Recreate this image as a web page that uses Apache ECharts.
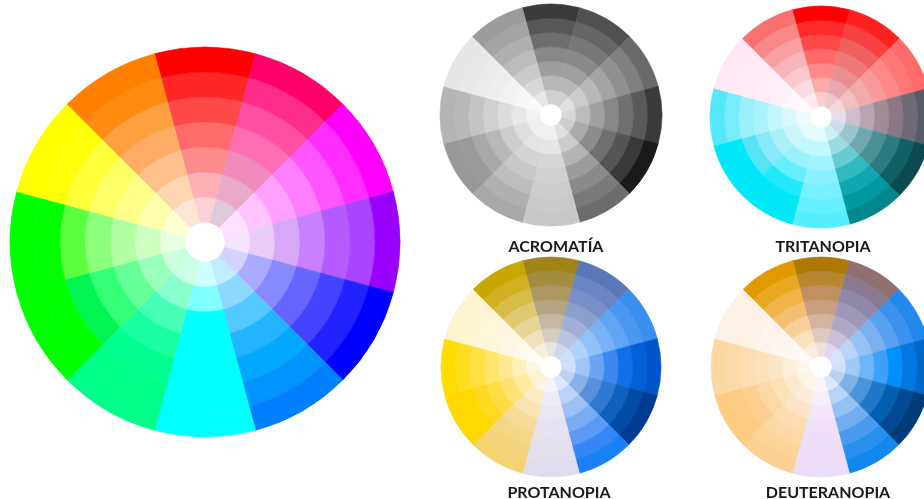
<!DOCTYPE html>
<html>
<head>
<meta charset="utf-8">
<script src="https://cdn.jsdelivr.net/npm/echarts@6/dist/echarts.min.js"></script>
<style>html,body{margin:0;padding:0;background:#fff}#c{width:924px;height:499px}</style>
</head>
<body>
<div id="c"></div>
<script>
// 12 sectors clockwise from top; each list: ring colours from outer ring to inner ring
const sectors = ['Rojo','Rosa','Magenta','Violeta','Azul','Azur','Cian','Verde primavera','Verde','Verde lima','Amarillo','Naranja'];
const ringNames = ['Anillo 1','Anillo 2','Anillo 3','Anillo 4','Anillo 5','Anillo 6','Anillo 7'];

const normalColors = [
  ['#ff0000','#ff2626','#ff4848','#ff6a6a','#ff8c8c','#ffb0b6','#fcd0d6'],
  ['#ff0066','#ff2d8a','#ff4fa0','#ff6eb0','#f08cbc','#e8aac8','#e0c8d8'],
  ['#ff00ff','#ff2cff','#ff55ff','#ff7dff','#ffa0ff','#ffc4ff','#ffe0ff'],
  ['#9900ff','#aa44ff','#b55aff','#c880ff','#d8a8f8','#eaccf8','#f6e4fc'],
  ['#0000ff','#2222ff','#4444ff','#6666ff','#8888ff','#aaaaff','#d0d4ff'],
  ['#0080ff','#0094ff','#00a8ff','#22b4ff','#55c8ff','#8dd8ff','#c0ecff'],
  ['#00ffff','#00ffff','#00ffff','#00ffff','#00ffff','#80ffff','#ccffff'],
  ['#00ff88','#00ff88','#00ff90','#1affa0','#44ffb4','#88ffcc','#ccffe8'],
  ['#00ff00','#00ff00','#00f550','#33ff77','#66ff99','#99ffbb','#ccffdd'],
  ['#00ff00','#00ff00','#5cff40','#8cff7c','#b0ffa0','#ccffc0','#e8ffe0'],
  ['#ffff00','#ffff0a','#ffff3a','#ffff66','#ffff88','#ffffaa','#ffffd0'],
  ['#ff8000','#ff8c10','#ffa040','#ffac66','#ffc08c','#ffd4b0','#fde6d4']
];
const acromatiaColors = [
  ['#3a3a3a','#585858','#6e6e6e','#888888','#9e9e9e','#b8b8b8','#d0d0d0'],
  ['#505050','#666666','#777777','#8a8a8a','#a0a0a0','#b8b8b8','#d0d0d0'],
  ['#6a6a6a','#808080','#909090','#a4a4a4','#b8b8b8','#cccccc','#e0e0e0'],
  ['#3a3a3a','#5a5a5a','#707070','#888888','#a0a0a0','#bcbcbc','#d8d8d8'],
  ['#1a1a1a','#3a3a3a','#555555','#707070','#8c8c8c','#aaaaaa','#cccccc'],
  ['#6c6c6c','#7a7a7a','#8a8a8a','#9c9c9c','#b4b4b4','#cccccc','#e0e0e0'],
  ['#c8c8c8','#cacaca','#cccccc','#d0d0d0','#d6d6d6','#e6e6e6','#f0f0f0'],
  ['#a8a8a8','#b0b0b0','#bdbdbd','#c8c8c8','#d4d4d4','#e4e4e4','#f0f0f0'],
  ['#989898','#9a9a9a','#a8a8a8','#b8b8b8','#cccccc','#dddddd','#eeeeee'],
  ['#b4b4b4','#b8b8b8','#c4c4c4','#d0d0d0','#dcdcdc','#e8e8e8','#f2f2f2'],
  ['#e6e6e6','#e8e8e8','#ebebeb','#eeeeee','#f2f2f2','#f6f6f6','#fafafa'],
  ['#9c9c9c','#a4a4a4','#b0b0b0','#bcbcbc','#cacaca','#d8d8d8','#e8e8e8']
];
const tritanopiaColors = [
  ['#ff0000','#ff2a2a','#ff4848','#ff6a6a','#ff8a8a','#ffaaaa','#ffcccc'],
  ['#ff2020','#f84040','#f06060','#f07878','#e89090','#e8a8b0','#eec8d0'],
  ['#ff6a6a','#ff7878','#ff8888','#f89a9a','#f0aaaa','#f0c0c0','#f4d8d8'],
  ['#555d66','#6e6a76','#8a7884','#a08c98','#b8a4b0','#ccc0cc','#e6dceb'],
  ['#0a4a50','#106068','#2a7a80','#4a9096','#70a8b0','#9cc4cc','#c8e0e6'],
  ['#00888c','#0099a0','#10a8b0','#33b8c0','#66ccd4','#99dde4','#ccf0f4'],
  ['#55eeff','#66efff','#77f0ff','#88f2ff','#a0f4ff','#c0f8ff','#e0fcff'],
  ['#00e8f8','#00e8f8','#22eafa','#66eefa','#99f2fb','#c4f6fd','#e6fbfe'],
  ['#00e8f8','#00e8f8','#55e4f4','#88eaf8','#aaf0fa','#ccf6fc','#e6fbfe'],
  ['#55e8f8','#77ecfa','#99f0fb','#aaf2fc','#c4f6fd','#daf8fe','#eefcff'],
  ['#fde8f4','#fdeaf5','#fdecf6','#feeef7','#fef2f8','#fef6fa','#fefafc'],
  ['#f87070','#f88888','#f8a0a0','#f8b4b8','#fcc8cc','#fcdce0','#feeaf0']
];
const protanopiaColors = [
  ['#a08418','#a48c40','#ac9860','#b4a482','#c4b8a4','#d4ccc0','#e8e4e0'],
  ['#5a78b8','#6a84c4','#7890c8','#8ca0d0','#a0b0d8','#b8c4e0','#d0d8ec'],
  ['#3a8ef0','#4a98f2','#60a4f4','#78b2f6','#90c2f8','#aed2fa','#cce0fc'],
  ['#0055cc','#0060d8','#1070e8','#3a88f0','#6aa4f4','#a0c4f8','#d0e0fc'],
  ['#003c94','#004aa8','#1060c0','#3078d0','#5890dc','#88b0e8','#bcd0f4'],
  ['#1a80f8','#3388f6','#5a9af4','#7aacf4','#9cc0f6','#bcd2f8','#dde6fc'],
  ['#e0dcec','#e2deed','#e4e0ee','#e6e2f0','#eae6f2','#f0ecf6','#f6f4fa'],
  ['#f4d470','#f4d47c','#f4d888','#f6dc98','#f8e4b0','#faecc8','#fcf4e0'],
  ['#ffd800','#ffd800','#ffd820','#ffdc44','#ffe270','#ffeaa0','#fff4cc'],
  ['#ffdd00','#ffdd22','#ffe040','#ffe468','#ffea90','#fff0b8','#fff8e0'],
  ['#fff4d0','#fff5d4','#fff6d8','#fff7dc','#fff8e4','#fffaec','#fffcf4'],
  ['#c8a800','#d0b020','#d8bc48','#e0c870','#e8d498','#f0e0bc','#f8eedc']
];
const deuteranopiaColors = [
  ['#b07800','#b88830','#c09060','#c8a080','#d4b4a0','#e0c8c0','#ece0dc'],
  ['#907070','#8a7a90','#9088a8','#a098b8','#b0a8c8','#c8c0dc','#e0d8ee'],
  ['#2288ee','#3a92ee','#5aa0f0','#7ab0f2','#98c0f4','#b8d4f8','#d4e4fb'],
  ['#0068c8','#0078e0','#0090f8','#40a0f8','#70b4f8','#a0c8fa','#d0e0fc'],
  ['#003c78','#004a94','#0060b0','#2078c8','#4a94d8','#7eb2e6','#b8d4f2'],
  ['#1188ee','#2a90ee','#4a9af0','#70aef2','#94c0f4','#b8d4f8','#dce8fc'],
  ['#ecdcf6','#ecdcf6','#eedef7','#f0e0f8','#f2e6f8','#f6eefa','#faf4fc'],
  ['#fcd090','#fcd498','#fcd8a4','#fcdcb0','#fce4c4','#fcecd8','#fef4ec'],
  ['#fccc80','#fccc84','#fcd090','#fcd8a4','#fce0b8','#fceacc','#fef4e4'],
  ['#fcd8a0','#fcdaa8','#fcdcb0','#fce0b8','#fce6c8','#fdeed8','#fef6ec'],
  ['#fdf0e4','#fdf1e6','#fdf2e8','#fef4ec','#fef6f0','#fef8f4','#fefcfa'],
  ['#e09a00','#e8a820','#f0b448','#f4c070','#f8d098','#fae0bc','#fcecdc']
];
const wheelTitles = ['', 'ACROMATÍA', 'TRITANOPIA', 'PROTANOPIA', 'DEUTERANOPIA'];
const wheelData = [normalColors, acromatiaColors, tritanopiaColors, protanopiaColors, deuteranopiaColors];

// layout
const wheelLayout = [
  {center:[205,242], radius:[20,195]},
  {center:[551,115], radius:[11,111]},
  {center:[821,117], radius:[11,111]},
  {center:[551,367], radius:[11,110]},
  {center:[821,367], radius:[11,110]}
];
const titlePos = [null, [551,234], [818,234], [554,480], [823,480]];

const chart = echarts.init(document.getElementById('c'), null, {renderer:'canvas'});
const polar = [], angleAxis = [], radiusAxis = [], series = [], title = [];
wheelData.forEach((wheel, w) => {
  polar.push({center: wheelLayout[w].center, radius: wheelLayout[w].radius});
  angleAxis.push({polarIndex:w, type:'category', data:sectors, startAngle:105, clockwise:true,
    boundaryGap:true, axisLine:{show:false}, axisTick:{show:false}, axisLabel:{show:false}, splitLine:{show:false}});
  radiusAxis.push({polarIndex:w, type:'value', min:0, max:ringNames.length,
    axisLine:{show:false}, axisTick:{show:false}, axisLabel:{show:false}, splitLine:{show:false}});
  // inner ring first so stacking goes outward
  for (let r = ringNames.length - 1; r >= 0; r--) {
    series.push({
      type:'bar', coordinateSystem:'polar', polarIndex:w, stack:'wheel'+w, name:ringNames[r],
      barCategoryGap:'0%', silent:true, animation:false,
      data: sectors.map((s, i) => ({value:1, itemStyle:{color:wheel[i][r], borderColor:wheel[i][r], borderWidth:0.6}}))
    });
  }
  if (wheelTitles[w]) {
    title.push({text:wheelTitles[w], left:titlePos[w][0], top:titlePos[w][1], textAlign:'center',
      textStyle:{fontFamily:'Lato', fontSize:16, fontWeight:'bold', color:'#1a1a1a'}});
  }
});
chart.setOption({backgroundColor:'#fff', animation:false, title, polar, angleAxis, radiusAxis, series});
</script>
</body>
</html>
